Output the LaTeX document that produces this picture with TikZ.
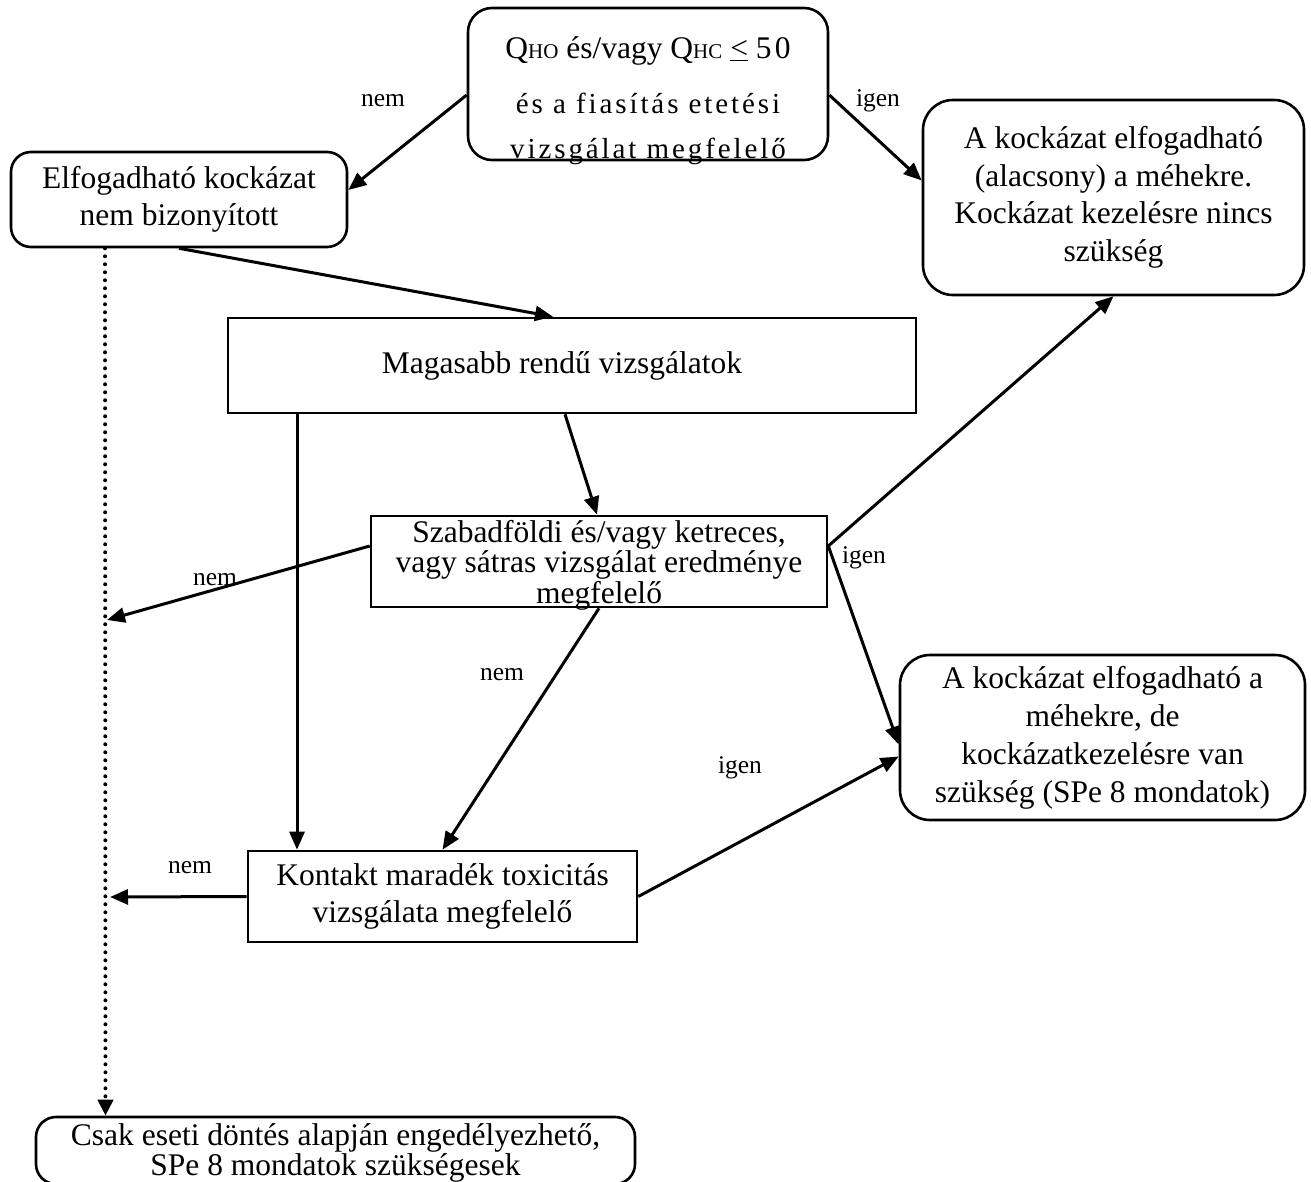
\documentclass[tikz,border=0pt]{standalone}
\usepackage{fontspec}
\setmainfont{Liberation Serif}
\newfontfamily\mincho[LetterSpace=10]{Liberation Serif}
\usetikzlibrary{arrows.meta}
\tikzset{
  box/.style={draw, line width=2.6pt, align=center, inner sep=0pt,
    font=\fontsize{31.5}{37.5}\selectfont},
  rbox/.style={box, rounded corners=24pt},
  conn/.style={line width=3pt, -{Triangle[length=18pt,width=15pt]}},
  dotconn/.style={line width=4pt, line cap=round, dash pattern=on 0pt off 8pt,
    -{Triangle[length=16pt,width=15pt]}},
  lab/.style={font=\fontsize{25.5}{30}\selectfont, inner sep=0pt},
  txt/.style={align=center, inner sep=0pt},
}
\newcommand{\smallsub}[1]{{\fontsize{21}{21}\selectfont #1}}
\begin{document}
\begin{tikzpicture}[x=1pt, y=-1pt]
\useasboundingbox (0,0) rectangle (1311,1182);

% boxes
\node[rbox, minimum width=360pt, minimum height=152pt] (top) at (648,84) {};
\node[txt, font=\mincho\fontsize{29}{45}\selectfont] (toptext) at (648,101)
  {{\normalfont\fontsize{31.5}{37}\selectfont
    Q\smallsub{HO} és/vagy Q\smallsub{HC} \underline{<} {\mincho 50}}\\[10pt]
  és a fiasítás etetési\\
  vizsgálat megfelelő};

\node[rbox, rounded corners=20pt, minimum width=336pt, minimum height=95pt] (left) at (179,199.5)
  {Elfogadható kockázat\\nem bizonyított};

\node[rbox, rounded corners=30pt, minimum width=381pt, minimum height=195pt] (rtop) at (1113.5,197.5)
  {A kockázat elfogadható\\(alacsony) a méhekre.\\Kockázat kezelésre nincs\\szükség};

\node[box, minimum width=688pt, minimum height=95pt] (mag) at (572,365.5) {};
\node[txt, font=\fontsize{31.5}{37.5}\selectfont] (magtext) at (562,365.5)
  {Magasabb rendű vizsgálatok};

\node[box, minimum width=456pt, minimum height=91pt] (szab) at (599,561.5) {};
\node[txt, font=\fontsize{31.5}{30.5}\selectfont] (szabtext) at (599,565)
  {Szabadföldi és/vagy ketreces,\\vagy sátras vizsgálat eredménye\\megfelelő};

\node[rbox, rounded corners=30pt, minimum width=405pt, minimum height=165pt, font=\fontsize{31.5}{38}\selectfont] (rmid) at (1102.5,737.5)
  {A kockázat elfogadható a\\méhekre, de\\kockázatkezelésre van\\szükség (SPe 8 mondatok)};

\node[box, minimum width=389pt, minimum height=91pt] (kont) at (442.5,896.5)
  {Kontakt maradék toxicitás\\vizsgálata megfelelő};

\node[rbox, rounded corners=20pt, minimum width=599pt, minimum height=67pt] (bot) at (335.5,1150.5)
  {};
\node[txt, font=\fontsize{31.5}{30}\selectfont] (bottext) at (335.5,1153)
  {Csak eseti döntés alapján engedélyezhető,\\SPe 8 mondatok szükségesek};

% free ends on the dotted line
\coordinate (c1) at (107,620);
\coordinate (c2) at (110,897);

% connectors
\draw[conn] ([yshift=-11pt]top.west) -- ([yshift=9.5pt]left.east);
\draw[conn] ([yshift=-11pt]top.east) -- ([yshift=17pt]rtop.west);
\draw[conn] (left.south) -- ([xshift=-19pt]mag.north);
\draw[dotconn] ([xshift=-74pt]left.south) -- ([xshift=-230pt]bot.north);
\draw[conn] ([xshift=-7pt]mag.south) -- ([xshift=-2pt]szab.north);
\draw[conn] ([xshift=-275pt]mag.south) -- ([xshift=-145.5pt]kont.north);
\draw[conn] ([yshift=15.5pt]szab.west) -- (c1);
\draw[conn] ([yshift=15.5pt]szab.east) -- (rtop.south);
\draw[conn] ([yshift=15.5pt]szab.east) -- ([yshift=-7pt]rmid.west);
\draw[conn] (szab.south) -- (kont.north);
\draw[conn] (kont.east) -- ([yshift=-19pt]rmid.west);
\draw[conn] (kont.west) -- (c2);

% labels
\node[lab] (l1) at (383,101) {nem};
\node[lab] (l2) at (878,101) {igen};
\node[lab] (l3) at (215,580) {nem};
\node[lab] (l4) at (864,558) {igen};
\node[lab] (l5) at (502,675) {nem};
\node[lab] (l6) at (740,768) {igen};
\node[lab] (l7) at (190,868) {nem};
\end{tikzpicture}
\end{document}
